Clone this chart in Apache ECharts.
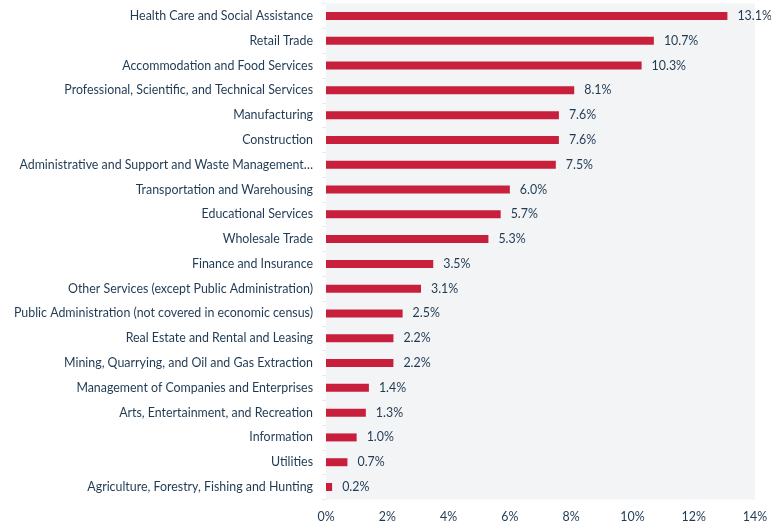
<!DOCTYPE html>
<html>
<head>
<meta charset="utf-8">
<script src="https://cdn.jsdelivr.net/npm/echarts@6/dist/echarts.min.js"></script>
<style>
  html, body { margin: 0; padding: 0; background: #fff; }
  #chart { width: 771px; height: 527px; }
</style>
</head>
<body>
<div id="chart"></div>
<script>
  // industries, top to bottom
  var industries = [
    'Health Care and Social Assistance',
    'Retail Trade',
    'Accommodation and Food Services',
    'Professional, Scientific, and Technical Services',
    'Manufacturing',
    'Construction',
    'Administrative and Support and Waste Management…',
    'Transportation and Warehousing',
    'Educational Services',
    'Wholesale Trade',
    'Finance and Insurance',
    'Other Services (except Public Administration)',
    'Public Administration (not covered in economic census)',
    'Real Estate and Rental and Leasing',
    'Mining, Quarrying, and Oil and Gas Extraction',
    'Management of Companies and Enterprises',
    'Arts, Entertainment, and Recreation',
    'Information',
    'Utilities',
    'Agriculture, Forestry, Fishing and Hunting'
  ];
  // share in percent
  var shares = [13.1, 10.7, 10.3, 8.1, 7.6, 7.6, 7.5, 6.0, 5.7, 5.3,
                3.5, 3.1, 2.5, 2.2, 2.2, 1.4, 1.3, 1.0, 0.7, 0.2];
  var tickValues = [0, 2, 4, 6, 8, 10, 12, 14];

  var textColor = '#1f3a52';
  var font = 'Lato, "Open Sans", sans-serif';

  var myChart = echarts.init(document.getElementById('chart'));
  myChart.setOption({
    animation: false,
    grid: {
      left: 326,
      right: 16,
      top: 3.6,
      bottom: 27.6,
      outerBoundsMode: 'none',
      containLabel: false,
      show: true,
      backgroundColor: '#f3f4f6',
      borderWidth: 0
    },
    xAxis: {
      type: 'value',
      min: tickValues[0],
      max: tickValues[tickValues.length - 1],
      interval: 2,
      axisLine: {show: false},
      axisTick: {show: false},
      splitLine: {show: false},
      axisLabel: {
        color: textColor,
        fontFamily: font,
        fontSize: 12.4,
        margin: 12,
        formatter: function (v) { return v + '%'; }
      }
    },
    yAxis: {
      type: 'category',
      inverse: true,
      data: industries,
      axisLine: {show: false},
      axisTick: {show: true, length: 4, lineStyle: {color: '#e8eaed'}},
      axisLabel: {
        color: textColor,
        fontFamily: font,
        fontSize: 12.4,
        margin: 13
      }
    },
    series: [{
      type: 'bar',
      data: shares,
      barWidth: 8,
      itemStyle: {color: '#c8203c'},
      label: {
        show: true,
        position: 'right',
        distance: 10,
        color: textColor,
        fontFamily: font,
        fontSize: 12.4,
        formatter: function (p) { return p.value.toFixed(1) + '%'; }
      }
    }]
  });
</script>
</body>
</html>
